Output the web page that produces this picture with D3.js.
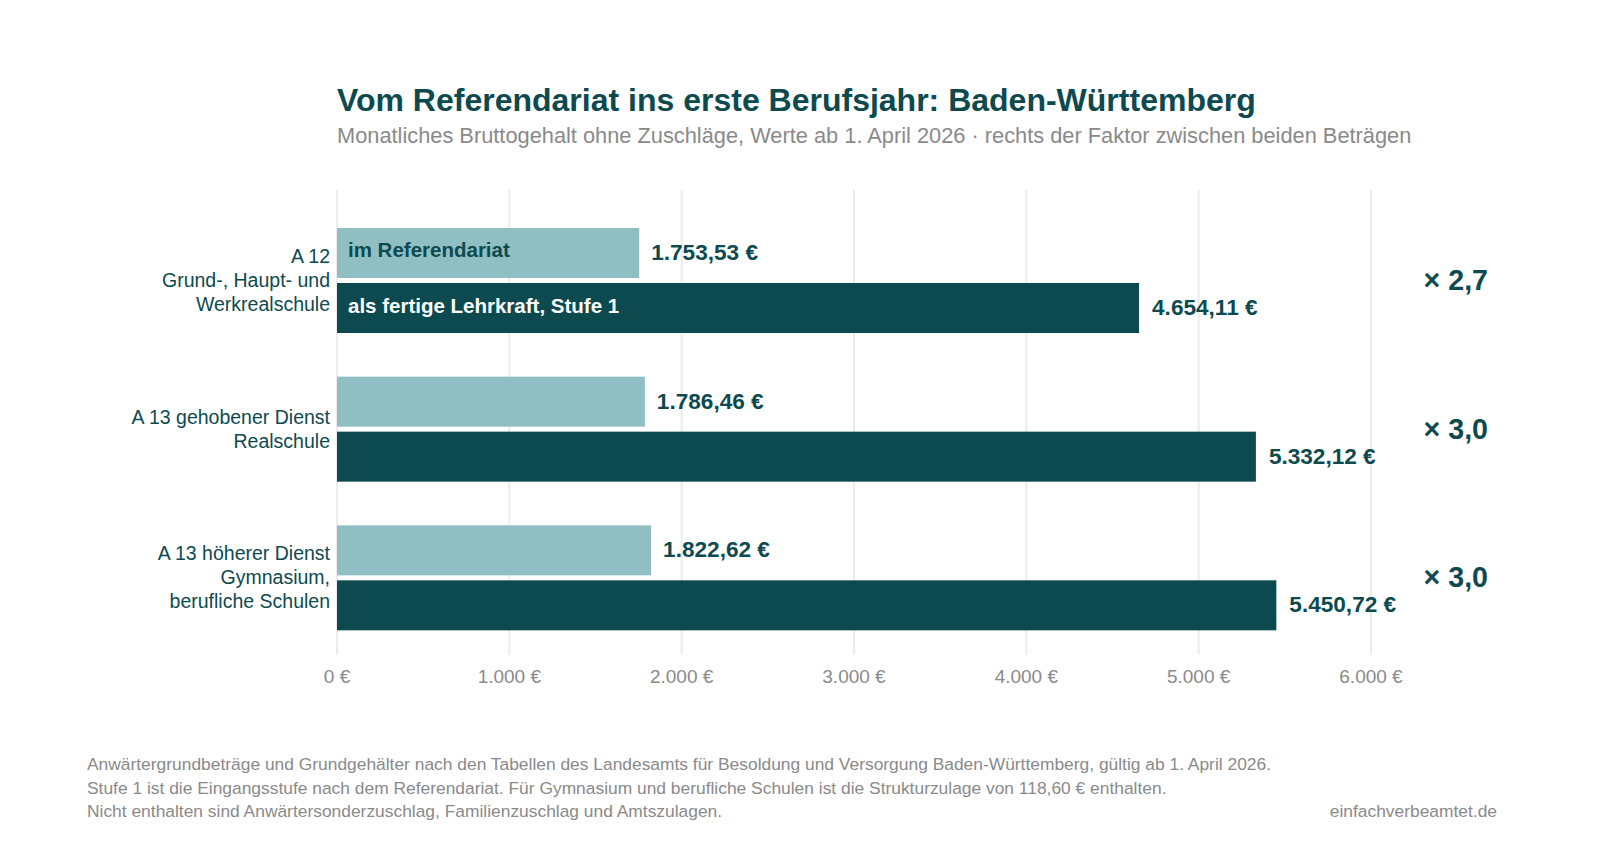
<!DOCTYPE html>
<html><head><meta charset="utf-8">
<script src="https://cdn.jsdelivr.net/npm/d3@7"></script>
<style>body{margin:0;background:#fff;font-family:"Liberation Sans",Arial,sans-serif}</style>
</head><body><div id="chart"></div>
<script>
var categories = [["A 12","Grund-, Haupt- und","Werkrealschule"],["A 13 gehobener Dienst","Realschule"],["A 13 höherer Dienst","Gymnasium,","berufliche Schulen"]];
var referendariat = [1753.53, 1786.46, 1822.62];
var lehrkraft = [4654.11, 5332.12, 5450.72];
var factors = ["× 2,7", "× 3,0", "× 3,0"];
var ticks = [0,1000,2000,3000,4000,5000,6000];
var footnotes = ["Anwärtergrundbeträge und Grundgehälter nach den Tabellen des Landesamts für Besoldung und Versorgung Baden-Württemberg, gültig ab 1. April 2026.",
 "Stufe 1 ist die Eingangsstufe nach dem Referendariat. Für Gymnasium und berufliche Schulen ist die Strukturzulage von 118,60 € enthalten.",
 "Nicht enthalten sind Anwärtersonderzuschlag, Familienzuschlag und Amtszulagen."];

var dark = "#0d4a50", light = "#8fbfc3", grey = "#8a8a8a";
var fmt = function(v){ return v.toLocaleString("de-DE",{minimumFractionDigits:2,maximumFractionDigits:2}) + " €"; };
var svg = d3.select("#chart").append("svg").attr("width",1610).attr("height",868);

var x = d3.scaleLinear().domain([0,6000]).range([337,1371]);
var y = d3.scaleBand().domain(d3.range(3)).range([200,646]).paddingInner(0);

svg.append("text").attr("x",337).attr("y",111).attr("fill",dark).style("font-size","32px").style("font-weight","bold")
  .text("Vom Referendariat ins erste Berufsjahr: Baden-Württemberg");
svg.append("text").attr("x",337).attr("y",143).attr("fill",grey).style("font-size","21.8px")
  .text("Monatliches Bruttogehalt ohne Zuschläge, Werte ab 1. April 2026 · rechts der Faktor zwischen beiden Beträgen");

svg.selectAll(".grid").data(ticks).enter().append("line")
  .attr("x1",d=>x(d)).attr("x2",d=>x(d)).attr("y1",190).attr("y2",655)
  .attr("stroke","#ececec").attr("stroke-width",2);
svg.selectAll(".tick").data(ticks).enter().append("text")
  .attr("x",d=>x(d)).attr("y",683).attr("text-anchor","middle").attr("fill",grey).style("font-size","19px")
  .text(d=>d3.format(",")(d).replace(/,/g,".") + " €");

var bh = 50;
categories.forEach(function(c,i){
  var top = y(i) + 28;
  svg.append("rect").attr("x",x(0)).attr("y",top).attr("width",x(referendariat[i])-x(0)).attr("height",bh).attr("fill",light);
  svg.append("rect").attr("x",x(0)).attr("y",top+55).attr("width",x(lehrkraft[i])-x(0)).attr("height",bh).attr("fill",dark);
  svg.append("text").attr("x",x(referendariat[i])+12).attr("y",top+32).attr("fill",dark).style("font-size","22.6px").style("font-weight","bold").text(fmt(referendariat[i]));
  svg.append("text").attr("x",x(lehrkraft[i])+13).attr("y",top+87).attr("fill",dark).style("font-size","22.6px").style("font-weight","bold").text(fmt(lehrkraft[i]));
  svg.append("text").attr("x",1488).attr("y",top+62).attr("text-anchor","end").attr("fill",dark).style("font-size","28.6px").style("font-weight","bold").text(factors[i]);
  var t = svg.append("text").attr("x",330).attr("text-anchor","end").attr("fill",dark).style("font-size","19.5px");
  var cy = top + 55 - 3 - (c.length-1)*24/2 + 7;
  c.forEach(function(l,j){ t.append("tspan").attr("x",330).attr("y",cy + j*24).text(l); });
  if(i===0){
    svg.append("text").attr("x",348).attr("y",top+29).attr("fill",dark).style("font-size","20.5px").style("font-weight","bold").text("im Referendariat");
    svg.append("text").attr("x",348).attr("y",top+85).attr("fill","#fff").style("font-size","20.5px").style("font-weight","bold").text("als fertige Lehrkraft, Stufe 1");
  }
});

footnotes.forEach(function(f,j){
  svg.append("text").attr("x",87).attr("y",770+j*23.5).attr("fill",grey).style("font-size","17.4px").text(f);
});
svg.append("text").attr("x",1497).attr("y",817).attr("text-anchor","end").attr("fill",grey).style("font-size","17.4px").text("einfachverbeamtet.de");
</script></body></html>
